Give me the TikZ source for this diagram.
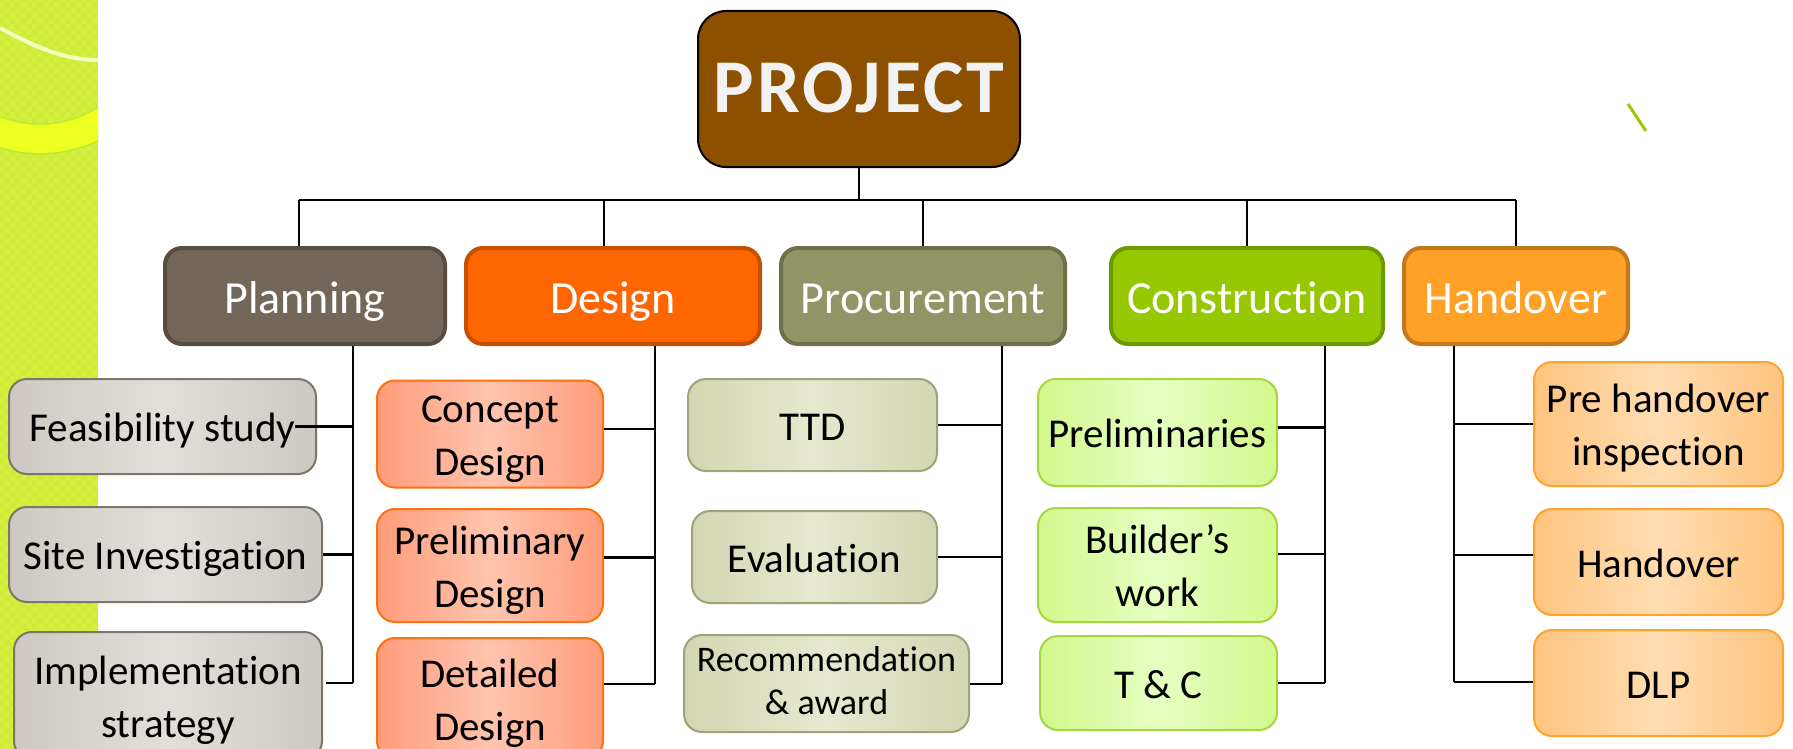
\documentclass[tikz,border=0pt]{standalone}
\usepackage{fontspec}
\setmainfont{Carlito}[Ligatures=NoCommon]
\usepackage{xcolor}
\usepackage{tikz}
\usetikzlibrary{calc,patterns}

% side stripe
\definecolor{stripe}{HTML}{D5F03C}
\definecolor{stripedot}{HTML}{CFEA3A}
\definecolor{stripeglow}{HTML}{EEFF22}
\definecolor{stripering}{HTML}{B4EC30}
\definecolor{stripeline}{HTML}{F2FFC4}
\definecolor{tick}{HTML}{99CC00}
% top level
\definecolor{projectfill}{HTML}{8C5000}
\definecolor{projecttext}{HTML}{F2F2F2}
% phases
\definecolor{planfill}{HTML}{736759}
\definecolor{planborder}{HTML}{574D41}
\definecolor{designfill}{HTML}{FF6600}
\definecolor{designborder}{HTML}{C75000}
\definecolor{procfill}{HTML}{919465}
\definecolor{procborder}{HTML}{6D7049}
\definecolor{consfill}{HTML}{96C800}
\definecolor{consborder}{HTML}{6E9A00}
\definecolor{handfill}{HTML}{FFA126}
\definecolor{handborder}{HTML}{C4781C}
% tasks
\definecolor{planshade}{HTML}{CDC9C2}
\definecolor{planlight}{HTML}{E2DFDA}
\definecolor{planedge}{HTML}{7D766C}
\definecolor{designshade}{HTML}{FF9C7A}
\definecolor{designlight}{HTML}{FFC4AE}
\definecolor{designedge}{HTML}{FF7010}
\definecolor{procshade}{HTML}{D3D6B2}
\definecolor{proclight}{HTML}{E6E8D0}
\definecolor{procedge}{HTML}{A0A27A}
\definecolor{consshade}{HTML}{D2F88C}
\definecolor{conslight}{HTML}{E6FFC2}
\definecolor{consedge}{HTML}{A6D63E}
\definecolor{handshade}{HTML}{FFC47E}
\definecolor{handlight}{HTML}{FFDDB2}
\definecolor{handedge}{HTML}{FFA22E}

\begin{document}
\begin{tikzpicture}[x=1pt, y=-1pt]
\tikzset{
project/.style  = {draw, line width=2pt, fill=projectfill, rounded corners=28pt, text=projecttext, inner sep=0pt,
                   font=\fontsize{76}{80}\selectfont\bfseries\addfontfeature{LetterSpace=4},
                   execute at begin node={\rule[-12pt]{0pt}{72pt}}},
phase/.style    = {draw, rounded corners=17pt, line width=4pt, minimum height=96pt, inner sep=0pt, text=white,
                   font=\fontsize{46}{50}\selectfont, execute at begin node={\rule[-10pt]{0pt}{54pt}}},
task/.style     = {draw, rounded corners=18pt, line width=2pt, inner sep=0pt, align=center,
                   font=\fontsize{41}{53}\selectfont,
                   execute at begin node={\rule[-12pt]{0pt}{54pt}}},
twoline/.style  = {execute at begin node={\rule[-12pt]{0pt}{107pt}}},
plantask/.style   = {task, draw=planedge, left color=planshade, right color=planshade, middle color=planlight},
designtask/.style = {task, draw=designedge, left color=designshade, right color=designshade, middle color=designlight},
proctask/.style   = {task, draw=procedge, left color=procshade, right color=procshade, middle color=proclight},
constask/.style   = {task, draw=consedge, left color=consshade, right color=consshade, middle color=conslight},
handtask/.style   = {task, draw=handedge, left color=handshade, right color=handshade, middle color=handlight},
link/.style     = {line width=2.4pt},
}
    \useasboundingbox (0,0) rectangle (1793,749);
    \fill [white] (0,0) rectangle (1793,749);

    % Side stripe
    \fill [stripe] (0,0) rectangle (98,749);
    \fill [pattern=checkerboard, pattern color=stripedot] (0,0) rectangle (98,749);
    \begin{scope}
        \clip (0,0) rectangle (98,749);
        \draw [line width=31pt, stripering] (40,8) ellipse [x radius=126, y radius=131];
        \draw [line width=28pt, stripeglow] (40,8) ellipse [x radius=126, y radius=131];
        \draw [line width=4pt, stripeline] (0,28) .. controls (35,47) and (65,60) .. (98,60);
    \end{scope}
    \draw [line width=3pt, tick] (1628,104) -- (1646,131);

    % Main nodes
    \node [project, minimum width=322pt, minimum height=156pt] (project) at (859,89) {PROJECT};

    \node [phase, draw=planborder,   fill=planfill,   minimum width=280pt] (planning)     at (305,296)  {Planning};
    \node [phase, draw=designborder, fill=designfill, minimum width=294pt] (design)       at (613,296)  {Design};
    \node [phase, draw=procborder,   fill=procfill,   minimum width=284pt] (procurement)  at (923,296)  {Procurement};
    \node [phase, draw=consborder,   fill=consfill,   minimum width=272pt] (construction) at (1247,296) {Construction};
    \node [phase, draw=handborder,   fill=handfill,   minimum width=224pt] (handover)     at (1516,296) {Handover};

    % Planning tasks
    \node [plantask, minimum width=307pt, minimum height=95pt]           (feasibility)    at (162.5,426.5) {Feasibility study};
    \node [plantask, minimum width=313pt, minimum height=95pt]           (siteinv)        at (165.5,554.5) {Site Investigation};
    \node [plantask, twoline, minimum width=308pt, minimum height=127pt] (implementation) at (168,695.5)   {Implementation\\strategy};

    % Design tasks
    \node [designtask, twoline, minimum width=226pt, minimum height=104pt] (concept)      at (490,434)   {Concept\\Design};
    \node [designtask, twoline, minimum width=226pt, minimum height=113pt] (prelimdesign) at (490,565.5) {Preliminary\\Design};
    \node [designtask, twoline, minimum width=226pt, minimum height=121pt] (detailed)     at (490,698.5) {Detailed\\Design};

    % Procurement tasks
    \node [proctask, minimum width=249pt, minimum height=92pt] (ttd)        at (812.5,425) {TTD};
    \node [proctask, minimum width=245pt, minimum height=92pt] (evaluation) at (814.5,557) {Evaluation};
    \node [proctask, minimum width=285pt, minimum height=97pt, font=\fontsize{36}{43}\selectfont,
           execute at begin node={\rule[-10pt]{0pt}{84pt}}] (award) at (826.5,683.5) {Recommendation\\\& award};

    % Construction tasks
    \node [constask, minimum width=239pt, minimum height=107pt]          (prelims)  at (1157.5,432.5) {Preliminaries};
    \node [constask, twoline, minimum width=239pt, minimum height=114pt] (builders) at (1157.5,565)   {Builder’s\\work};
    \node [constask, minimum width=237pt, minimum height=94pt]           (tandc)    at (1158.5,683)   {T \& C};

    % Handover tasks
    \node [handtask, twoline, minimum width=249pt, minimum height=124pt] (preinsp)      at (1658.5,424) {Pre handover\\inspection};
    \node [handtask, minimum width=249pt, minimum height=106pt]          (handoverdone) at (1658.5,562) {Handover};
    \node [handtask, minimum width=249pt, minimum height=106pt]          (dlp)          at (1658.5,683) {DLP};

    % Main edges
    \coordinate (bar) at (859,200);
    \coordinate (planstem)   at ([xshift=-6pt]planning.north);
    \coordinate (designstem) at ([xshift=-9pt]design.north);
    \draw [link] (project.south) -- (bar);
    \draw [link] (planstem |- bar) -- (handover.north |- bar);
    \foreach \p in {planstem,designstem,procurement.north,construction.north,handover.north}
        \draw [link] (\p) -- (\p |- bar);

    % Planning branch
    \coordinate (planspine) at (353,683);
    \draw [link] (planspine |- planning.south) -- (planspine);
    \draw [link] ([xshift=-22pt]feasibility.east) -- (feasibility.east -| planspine);
    \draw [link] (siteinv.east) -- (siteinv.east -| planspine);
    \draw [link] (planspine) -- ([xshift=3pt]implementation.east |- planspine);

    % Design branch
    \coordinate (designspine) at (655,684);
    \draw [link] (designspine |- design.south) -- (designspine);
    \draw [link] ([yshift=5pt]concept.east) -- ([yshift=5pt]concept.east -| designspine);
    \draw [link] ([yshift=8pt]prelimdesign.east) -- ([yshift=8pt]prelimdesign.east -| designspine);
    \draw [link] (designspine) -- (detailed.east |- designspine);

    % Procurement branch
    \coordinate (procspine) at (1002,684);
    \draw [link] (procspine |- procurement.south) -- (procspine);
    \draw [link] (ttd.east) -- (ttd.east -| procspine);
    \draw [link] (evaluation.east) -- (evaluation.east -| procspine);
    \draw [link] (procspine) -- (award.east |- procspine);

    % Construction branch
    \coordinate (consspine) at (1325,683);
    \draw [link] (consspine |- construction.south) -- (consspine);
    \draw [link] ([yshift=5pt]prelims.east) -- ([yshift=5pt]prelims.east -| consspine);
    \draw [link] ([yshift=11pt]builders.east) -- ([yshift=11pt]builders.east -| consspine);
    \draw [link] (consspine) -- (tandc.east |- consspine);

    % Handover branch
    \coordinate (handspine) at (1454,682);
    \draw [link] (handspine |- handover.south) -- (handspine);
    \draw [link] (preinsp.west) -- (preinsp.west -| handspine);
    \draw [link] ([yshift=7pt]handoverdone.west) -- ([yshift=7pt]handoverdone.west -| handspine);
    \draw [link] (handspine) -- (dlp.west |- handspine);

\end{tikzpicture}
\end{document}
